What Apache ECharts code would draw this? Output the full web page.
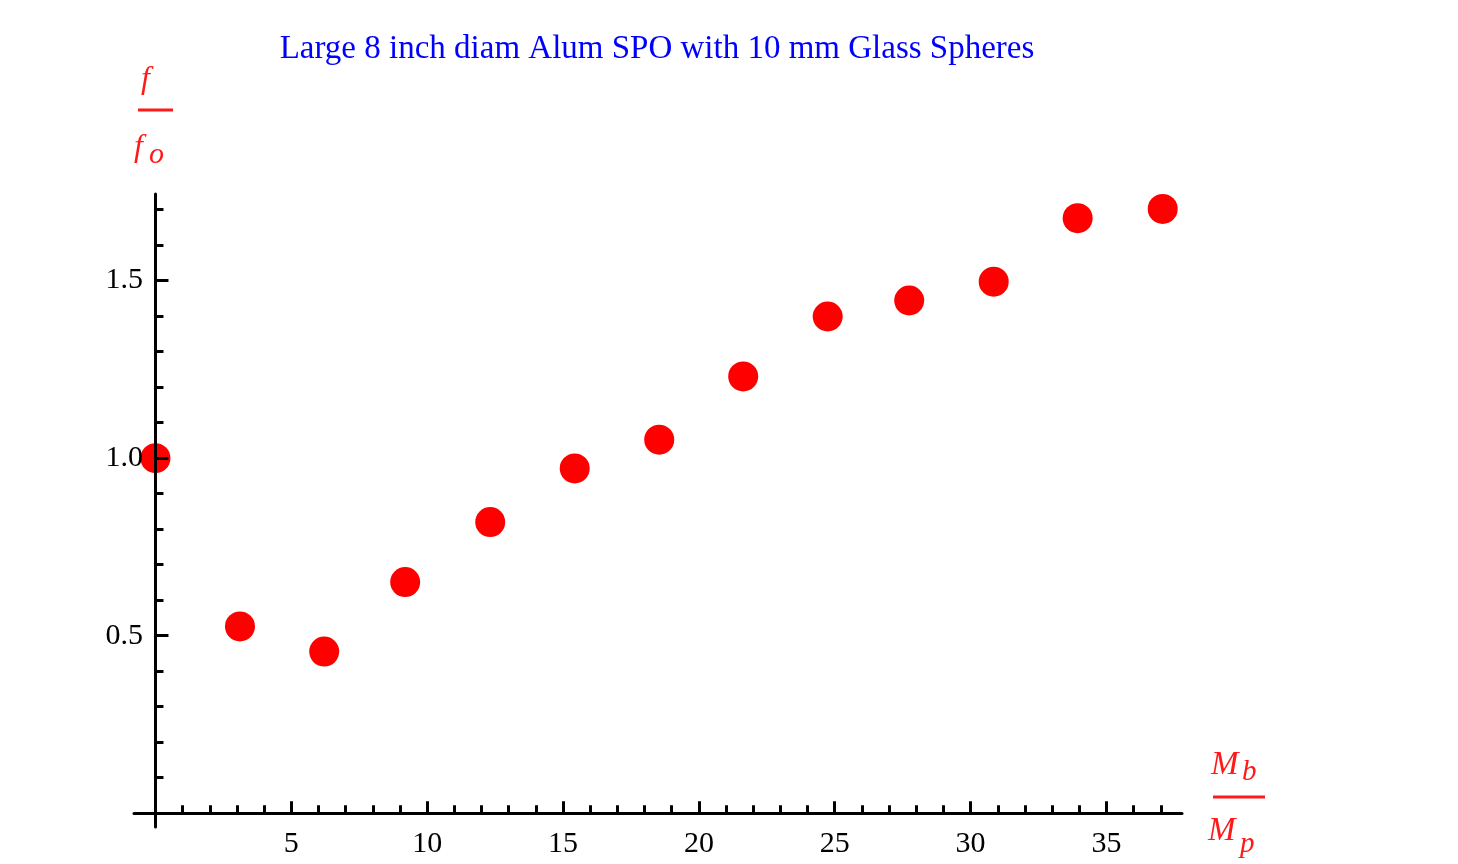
<!DOCTYPE html>
<html>
<head>
<meta charset="utf-8">
<title>Large 8 inch diam Alum SPO with 10 mm Glass Spheres</title>
<script src="https://cdn.jsdelivr.net/npm/echarts@6/dist/echarts.min.js"></script>
<style>
  html, body { margin: 0; padding: 0; background: #ffffff; }
  #chart { width: 1458px; height: 864px; }
</style>
</head>
<body>
<div id="chart"></div>
<script>
// Mass ratio Mb/Mp (x) against normalised frequency f/fo (y)
const massRatio = [0, 3.11, 6.21, 9.19, 12.32, 15.43, 18.54, 21.63, 24.74, 27.74, 30.85, 33.94, 37.07];
const freqRatio = [1.0, 0.526, 0.455, 0.651, 0.820, 0.971, 1.052, 1.230, 1.399, 1.444, 1.497, 1.676, 1.702];

// Tick positions
const xMajorTicks = [5, 10, 15, 20, 25, 30, 35];
const xMinorTicks = [1, 2, 3, 4, 6, 7, 8, 9, 11, 12, 13, 14, 16, 17, 18, 19, 21, 22, 23, 24,
                     26, 27, 28, 29, 31, 32, 33, 34, 36, 37];
const yMajorTicks = [0.5, 1.0, 1.5];
const yMinorTicks = [0.1, 0.2, 0.3, 0.4, 0.6, 0.7, 0.8, 0.9, 1.1, 1.2, 1.3, 1.4, 1.6, 1.7];

const titleText = 'Large 8 inch diam Alum SPO with 10 mm Glass Spheres';

const SERIF = '"Liberation Serif", "DejaVu Serif", serif';
const LABEL_RED = '#ff1a1a';

const points = massRatio.map((x, i) => [x, freqRatio[i]]);

const X_RANGE = [-0.79, 37.78];
const Y_RANGE = [-0.039, 1.744];

function xAxisDef(ticks, len, withLabels, showLine) {
  return {
    type: 'value', gridIndex: 0, position: 'bottom',
    min: X_RANGE[0], max: X_RANGE[1], z: 5,
    splitLine: { show: false },
    axisLine: { show: showLine, onZero: true, lineStyle: { color: '#000', width: 3 } },
    axisTick: { show: true, inside: true, length: len, customValues: ticks,
                lineStyle: { color: '#000', width: 3 } },
    axisLabel: withLabels ? {
      show: true, customValues: ticks, margin: 2,
      fontFamily: SERIF, fontSize: 30, color: '#000'
    } : { show: false }
  };
}

function yAxisDef(ticks, len, withLabels, showLine) {
  return {
    type: 'value', gridIndex: 0, position: 'left',
    min: Y_RANGE[0], max: Y_RANGE[1], z: 5,
    splitLine: { show: false },
    axisLine: { show: showLine, onZero: true, lineStyle: { color: '#000', width: 3 } },
    axisTick: { show: true, inside: true, length: len, customValues: ticks,
                lineStyle: { color: '#000', width: 3 } },
    axisLabel: withLabels ? {
      show: true, customValues: ticks, margin: -9,
      fontFamily: SERIF, fontSize: 30, color: '#000',
      formatter: v => v.toFixed(1)
    } : { show: false }
  };
}

const chart = echarts.init(document.getElementById('chart'), null, { renderer: 'canvas' });

chart.setOption({
  backgroundColor: '#ffffff',
  animation: false,
  title: {
    text: titleText,
    left: 652, top: 28, textAlign: 'center',
    textStyle: { fontFamily: SERIF, fontSize: 33, fontWeight: 'normal', color: '#0000ff' }
  },
  grid: { left: 134, right: 276, top: 194, bottom: 37, containLabel: false, outerBoundsMode: 'none' },
  xAxis: [
    xAxisDef(xMajorTicks, 12, true, true),
    xAxisDef(xMinorTicks, 8, false, false)
  ],
  yAxis: [
    yAxisDef(yMajorTicks, 13, true, true),
    yAxisDef(yMinorTicks, 8, false, false)
  ],
  series: [{
    type: 'scatter',
    xAxisIndex: 0, yAxisIndex: 0,
    z: 1,
    symbol: 'circle',
    symbolSize: 30,
    itemStyle: { color: '#ff0000', opacity: 1 },
    emphasis: { disabled: true },
    data: points
  }],
  graphic: [
    // y-axis quantity: f / fo
    { type: 'text', left: 141, top: 64, z: 10,
      style: { text: 'f', font: 'italic 32px ' + SERIF, fill: LABEL_RED } },
    { type: 'line', z: 10,
      shape: { x1: 138, y1: 110, x2: 173, y2: 110 },
      style: { stroke: LABEL_RED, lineWidth: 3 } },
    { type: 'text', left: 134, top: 132, z: 10,
      style: { text: 'f', font: 'italic 32px ' + SERIF, fill: LABEL_RED } },
    { type: 'text', left: 149, top: 140, z: 10,
      style: { text: 'o', font: 'italic 30px ' + SERIF, fill: LABEL_RED } },
    // x-axis quantity: Mb / Mp
    { type: 'text', left: 1211, top: 749, z: 10,
      style: { text: 'M', font: 'italic 33px ' + SERIF, fill: LABEL_RED } },
    { type: 'text', left: 1242, top: 758, z: 10,
      style: { text: 'b', font: 'italic 29px ' + SERIF, fill: LABEL_RED } },
    { type: 'line', z: 10,
      shape: { x1: 1213, y1: 797, x2: 1265, y2: 797 },
      style: { stroke: LABEL_RED, lineWidth: 3 } },
    { type: 'text', left: 1208, top: 815, z: 10,
      style: { text: 'M', font: 'italic 33px ' + SERIF, fill: LABEL_RED } },
    { type: 'text', left: 1240, top: 830, z: 10,
      style: { text: 'p', font: 'italic 29px ' + SERIF, fill: LABEL_RED } }
  ]
});
</script>
</body>
</html>
